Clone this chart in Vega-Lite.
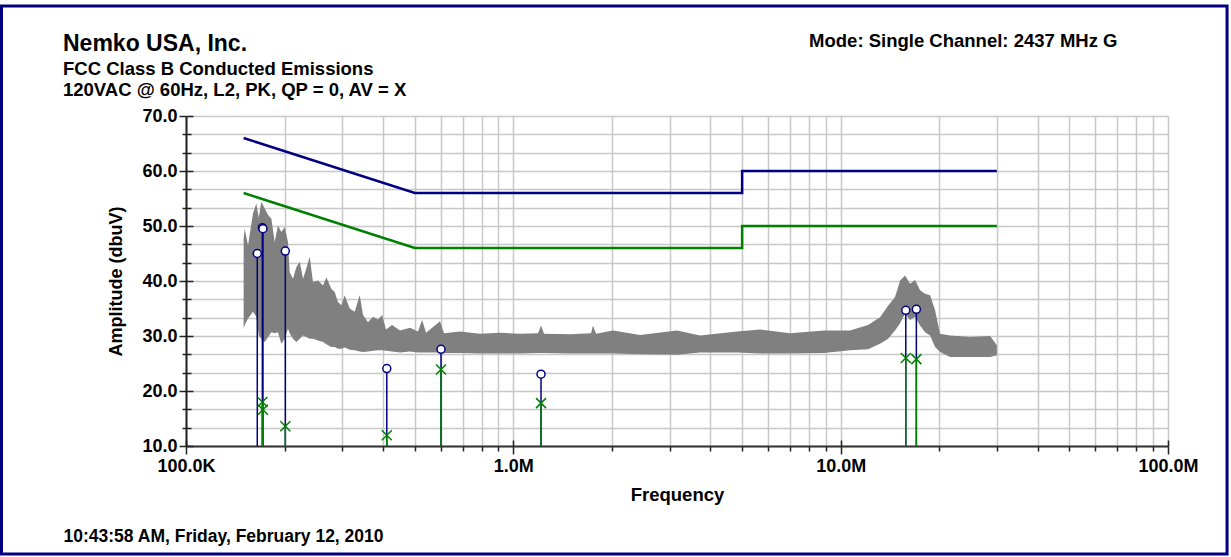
{
  "$schema": "https://vega.github.io/schema/vega-lite/v6.json",
  "width": 982,
  "height": 330,
  "autosize": {"type": "none"},
  "padding": {"left": 186, "top": 116, "right": 63, "bottom": 111},
  "background": "white",
  "config": {
    "font": "Liberation Sans",
    "view": {"stroke": null},
    "axis": {"labelFont": "Liberation Sans", "labelFontWeight": "bold", "labelColor": "black", "titleFont": "Liberation Sans", "titleFontWeight": "bold", "titleColor": "black"}
  },
  "title": {
    "text": "Nemko USA, Inc.",
    "subtitle": ["FCC Class B Conducted Emissions", "120VAC @ 60Hz, L2, PK, QP = 0, AV = X"],
    "anchor": "start", "frame": "group", "dx": -123, "dy": 103, "offset": 8,
    "font": "Liberation Sans", "fontSize": 23, "fontWeight": "bold", "color": "black",
    "subtitleFont": "Liberation Sans", "subtitleFontSize": 18.5, "subtitleFontWeight": "bold", "subtitleColor": "black",
    "subtitleLineHeight": 21, "subtitlePadding": 4
  },
  "datasets": {
    "trace": [
      {"f": 0.150, "hi": 47.7, "lo": 31.3},
      {"f": 0.1511, "hi": 49.5, "lo": 32.0},
      {"f": 0.1547, "hi": 46.5, "lo": 33.2},
      {"f": 0.1602, "hi": 52.3, "lo": 34.4},
      {"f": 0.1640, "hi": 54.1, "lo": 33.5},
      {"f": 0.1668, "hi": 51.5, "lo": 30.1},
      {"f": 0.1699, "hi": 54.4, "lo": 29.5},
      {"f": 0.1740, "hi": 53.2, "lo": 28.9},
      {"f": 0.1781, "hi": 52.0, "lo": 29.8},
      {"f": 0.1823, "hi": 51.3, "lo": 30.7},
      {"f": 0.1866, "hi": 47.1, "lo": 30.5},
      {"f": 0.1910, "hi": 50.1, "lo": 30.7},
      {"f": 0.1955, "hi": 48.9, "lo": 28.6},
      {"f": 0.2003, "hi": 49.8, "lo": 29.5},
      {"f": 0.2049, "hi": 47.1, "lo": 31.3},
      {"f": 0.2074, "hi": 41.6, "lo": 30.5},
      {"f": 0.2123, "hi": 40.4, "lo": 29.5},
      {"f": 0.2173, "hi": 42.5, "lo": 28.9},
      {"f": 0.2226, "hi": 43.5, "lo": 29.5},
      {"f": 0.2278, "hi": 40.4, "lo": 30.1},
      {"f": 0.2332, "hi": 42.3, "lo": 29.8},
      {"f": 0.2388, "hi": 44.4, "lo": 29.5},
      {"f": 0.2443, "hi": 39.8, "lo": 29.5},
      {"f": 0.2531, "hi": 40.1, "lo": 29.2},
      {"f": 0.2622, "hi": 39.2, "lo": 28.9},
      {"f": 0.2684, "hi": 40.7, "lo": 28.5},
      {"f": 0.2779, "hi": 38.6, "lo": 28.0},
      {"f": 0.2846, "hi": 38.0, "lo": 28.0},
      {"f": 0.2913, "hi": 36.2, "lo": 27.7},
      {"f": 0.2982, "hi": 35.6, "lo": 27.7},
      {"f": 0.3054, "hi": 37.4, "lo": 27.9},
      {"f": 0.3163, "hi": 35.0, "lo": 27.5},
      {"f": 0.3276, "hi": 34.4, "lo": 27.4},
      {"f": 0.3394, "hi": 37.4, "lo": 27.2},
      {"f": 0.3474, "hi": 33.8, "lo": 27.1},
      {"f": 0.3598, "hi": 32.5, "lo": 27.2},
      {"f": 0.3727, "hi": 33.5, "lo": 27.3},
      {"f": 0.3861, "hi": 33.0, "lo": 27.4},
      {"f": 0.3971, "hi": 33.8, "lo": 27.4},
      {"f": 0.4084, "hi": 31.2, "lo": 27.3},
      {"f": 0.4261, "hi": 32.0, "lo": 27.2},
      {"f": 0.4506, "hi": 31.0, "lo": 27.0},
      {"f": 0.4835, "hi": 31.5, "lo": 27.2},
      {"f": 0.5115, "hi": 30.8, "lo": 27.0},
      {"f": 0.5262, "hi": 32.9, "lo": 27.0},
      {"f": 0.5413, "hi": 30.6, "lo": 27.0},
      {"f": 0.5970, "hi": 32.7, "lo": 27.0},
      {"f": 0.6142, "hi": 30.5, "lo": 26.9},
      {"f": 0.687, "hi": 30.8, "lo": 26.9},
      {"f": 0.791, "hi": 30.4, "lo": 26.8},
      {"f": 0.911, "hi": 30.6, "lo": 26.8},
      {"f": 1.048, "hi": 30.4, "lo": 26.8},
      {"f": 1.190, "hi": 30.5, "lo": 26.9},
      {"f": 1.215, "hi": 31.9, "lo": 26.9},
      {"f": 1.241, "hi": 30.4, "lo": 26.9},
      {"f": 1.490, "hi": 30.3, "lo": 26.8},
      {"f": 1.728, "hi": 30.5, "lo": 26.8},
      {"f": 1.752, "hi": 31.9, "lo": 26.8},
      {"f": 1.789, "hi": 30.4, "lo": 26.8},
      {"f": 2.017, "hi": 31.0, "lo": 26.8},
      {"f": 2.439, "hi": 30.2, "lo": 26.7},
      {"f": 3.164, "hi": 31.0, "lo": 26.6},
      {"f": 3.719, "hi": 30.1, "lo": 27.0},
      {"f": 4.827, "hi": 30.8, "lo": 27.0},
      {"f": 5.672, "hi": 31.2, "lo": 26.8},
      {"f": 7.004, "hi": 30.5, "lo": 26.8},
      {"f": 8.899, "hi": 31.0, "lo": 26.9},
      {"f": 10.68, "hi": 31.0, "lo": 27.4},
      {"f": 12.12, "hi": 32.0, "lo": 27.6},
      {"f": 13.19, "hi": 33.4, "lo": 28.6},
      {"f": 13.96, "hi": 35.5, "lo": 29.5},
      {"f": 14.66, "hi": 37.1, "lo": 31.0},
      {"f": 15.19, "hi": 40.1, "lo": 32.3},
      {"f": 15.73, "hi": 41.0, "lo": 34.1},
      {"f": 16.29, "hi": 39.5, "lo": 32.9},
      {"f": 16.88, "hi": 40.2, "lo": 33.5},
      {"f": 17.48, "hi": 38.3, "lo": 31.9},
      {"f": 18.11, "hi": 37.7, "lo": 30.7},
      {"f": 18.76, "hi": 37.4, "lo": 30.1},
      {"f": 19.43, "hi": 34.7, "lo": 28.0},
      {"f": 20.12, "hi": 30.4, "lo": 27.1},
      {"f": 21.59, "hi": 30.1, "lo": 26.2},
      {"f": 24.86, "hi": 29.8, "lo": 26.2},
      {"f": 28.61, "hi": 30.0, "lo": 26.2},
      {"f": 30.0, "hi": 28.3, "lo": 26.5}
    ],
    "limits": [
      {"s": "QP", "i": 1, "f": 0.15, "v": 66},
      {"s": "QP", "i": 2, "f": 0.5, "v": 56},
      {"s": "QP", "i": 3, "f": 5, "v": 56},
      {"s": "QP", "i": 4, "f": 5, "v": 60},
      {"s": "QP", "i": 5, "f": 30, "v": 60},
      {"s": "AV", "i": 1, "f": 0.15, "v": 56},
      {"s": "AV", "i": 2, "f": 0.5, "v": 46},
      {"s": "AV", "i": 3, "f": 5, "v": 46},
      {"s": "AV", "i": 4, "f": 5, "v": 50},
      {"s": "AV", "i": 5, "f": 30, "v": 50}
    ],
    "peaks": [
      {"f": 0.1651, "pk": 45.0, "av": null},
      {"f": 0.1711, "pk": 49.7, "av": 18.0},
      {"f": 0.1718, "pk": 49.5, "av": 16.6},
      {"f": 0.2011, "pk": 45.45, "av": 13.6},
      {"f": 0.4106, "pk": 24.07, "av": 11.95},
      {"f": 0.6013, "pk": 27.58, "av": 23.9},
      {"f": 1.215, "pk": 23.05, "av": 17.8},
      {"f": 15.81, "pk": 34.67, "av": 26.0},
      {"f": 17.03, "pk": 34.85, "av": 25.8}
    ]
  },
  "resolve": {"axis": {"x": "independent", "y": "independent"}},
  "layer": [
    {
      "data": {"name": "trace"},
      "mark": {"type": "area", "color": "#808080", "opacity": 1},
      "encoding": {
        "x": {
          "field": "f", "type": "quantitative",
          "scale": {"type": "log", "domain": [0.1, 100], "nice": false},
          "axis": {
            "values": [0.1, 0.2, 0.3, 0.4, 0.5, 0.6, 0.7, 0.8, 0.9, 1, 2, 3, 4, 5, 6, 7, 8, 9, 10, 20, 30, 40, 50, 60, 70, 80, 90, 100],
            "grid": true, "gridColor": "#c8c8c8", "gridWidth": 1.5,
            "domainColor": "#333333", "domainWidth": 2,
            "tickColor": "#222222", "tickWidth": 1.5,
            "tickSize": {"condition": {"test": "datum.value == 0.1 || datum.value == 1 || datum.value == 10 || datum.value == 100", "value": 8}, "value": 5},
            "labelExpr": "datum.value == 0.1 ? '100.0K' : datum.value == 1 ? '1.0M' : datum.value == 10 ? '10.0M' : datum.value == 100 ? '100.0M' : ''",
            "labelFontSize": 18, "labelPadding": 3, "labelOverlap": false, "labelFlush": false, "labelBound": false,
            "title": "Frequency", "titleFontSize": 18.5, "titleBaseline": "alphabetic", "titleY": 54
          }
        },
        "y": {
          "field": "hi", "type": "quantitative",
          "scale": {"domain": [10, 70], "nice": false, "zero": false},
          "axis": {
            "values": [10, 13.333333333333334, 16.666666666666668, 20, 23.333333333333332, 26.666666666666668, 30, 33.333333333333336, 36.666666666666664, 40, 43.333333333333336, 46.666666666666664, 50, 53.333333333333336, 56.666666666666664, 60, 63.333333333333336, 66.66666666666667, 70],
            "grid": true, "gridColor": "#c8c8c8", "gridWidth": 1.5,
            "domainColor": "#222222", "domainWidth": 2,
            "tickColor": "#222222", "tickWidth": 1.5,
            "tickSize": {"condition": {"test": "abs(datum.value % 10) < 0.001", "value": 7}, "value": 4},
            "labelExpr": "abs(datum.value % 10) < 0.001 ? format(datum.value, '.1f') : ''",
            "labelFontSize": 18, "labelPadding": 2, "labelOverlap": false, "labelFlush": false, "labelBound": false,
            "title": "Amplitude (dbuV)", "titleFontSize": 18, "titleAngle": -90, "titleX": -65, "titleY": 165, "titleAlign": "center", "titleBaseline": "alphabetic"
          }
        },
        "y2": {"field": "lo"}
      }
    },
    {
      "data": {"name": "limits"},
      "mark": {"type": "line", "strokeWidth": 2.5},
      "encoding": {
        "x": {
          "field": "f", "type": "quantitative",
          "scale": {"type": "log", "domain": [0.1, 100], "nice": false},
          "axis": {"orient": "top", "domain": false, "ticks": false, "labels": false, "grid": false,
            "title": "Mode: Single Channel: 2437 MHz G", "titleFontSize": 18.5, "titleX": 931, "titleY": -70, "titleAlign": "right", "titleBaseline": "alphabetic"}
        },
        "y": {
          "field": "v", "type": "quantitative",
          "scale": {"domain": [10, 70], "nice": false, "zero": false},
          "axis": {"orient": "right", "domain": false, "ticks": false, "labels": false, "grid": false,
            "title": "10:43:58 AM, Friday, February 12, 2010", "titleFontSize": 17.5, "titleAngle": 0, "titleX": -1105, "titleY": 425, "titleAlign": "left", "titleBaseline": "alphabetic"}
        },
        "color": {"field": "s", "type": "nominal", "scale": {"domain": ["QP", "AV"], "range": ["#000080", "#008000"]}, "legend": null},
        "order": {"field": "i", "type": "quantitative"}
      }
    },
    {
      "data": {"name": "peaks"},
      "mark": {"type": "rule", "color": "#000080", "strokeWidth": 1.5},
      "encoding": {
        "x": {"field": "f", "type": "quantitative", "scale": {"type": "log", "domain": [0.1, 100], "nice": false}, "axis": null},
        "y": {"field": "pk", "type": "quantitative", "scale": {"domain": [10, 70], "nice": false, "zero": false}, "axis": null},
        "y2": {"datum": 10}
      }
    },
    {
      "data": {"name": "peaks"},
      "transform": [{"filter": "isValid(datum.av)"}],
      "mark": {"type": "rule", "color": "#008000", "strokeWidth": 1.5},
      "encoding": {
        "x": {"field": "f", "type": "quantitative", "scale": {"type": "log", "domain": [0.1, 100], "nice": false}, "axis": null},
        "y": {"field": "av", "type": "quantitative", "scale": {"domain": [10, 70], "nice": false, "zero": false}, "axis": null},
        "y2": {"datum": 10}
      }
    },
    {
      "data": {"name": "peaks"},
      "mark": {"type": "point", "shape": "circle", "filled": true, "fill": "white", "stroke": "#000080", "strokeWidth": 1.5, "size": 64, "opacity": 1},
      "encoding": {
        "x": {"field": "f", "type": "quantitative", "scale": {"type": "log", "domain": [0.1, 100], "nice": false}, "axis": null},
        "y": {"field": "pk", "type": "quantitative", "scale": {"domain": [10, 70], "nice": false, "zero": false}, "axis": null}
      }
    },
    {
      "data": {"name": "peaks"},
      "transform": [{"filter": "isValid(datum.av)"}],
      "mark": {"type": "point", "shape": "M-1,-1L1,1M-1,1L1,-1", "filled": false, "stroke": "#008000", "strokeWidth": 1.5, "size": 100, "opacity": 1},
      "encoding": {
        "x": {"field": "f", "type": "quantitative", "scale": {"type": "log", "domain": [0.1, 100], "nice": false}, "axis": null},
        "y": {"field": "av", "type": "quantitative", "scale": {"domain": [10, 70], "nice": false, "zero": false}, "axis": null}
      }
    },
    {
      "data": {"values": [{"frame": "border"}]},
      "mark": {"type": "rect", "filled": false, "fill": null, "stroke": "#000080", "strokeWidth": 3, "clip": false},
      "encoding": {
        "x": {"datum": 0.02731, "type": "quantitative", "scale": {"type": "log", "domain": [0.1, 100], "nice": false},
          "axis": {"orient": "bottom", "values": [0.1, 1, 10, 100], "domain": false, "labels": false, "grid": false, "title": null, "tickColor": "#222222", "tickWidth": 1.5, "tickSize": -6}},
        "x2": {"datum": 151.5},
        "y": {"datum": 90, "type": "quantitative", "scale": {"domain": [10, 70], "nice": false, "zero": false},
          "axis": {"orient": "left", "values": [10, 13.333333333333334, 16.666666666666668, 20, 23.333333333333332, 26.666666666666668, 30, 33.333333333333336, 36.666666666666664, 40, 43.333333333333336, 46.666666666666664, 50, 53.333333333333336, 56.666666666666664, 60, 63.333333333333336, 66.66666666666667, 70],
            "domain": false, "labels": false, "grid": false, "title": null, "tickColor": "#222222", "tickWidth": 1.5,
            "tickSize": {"condition": {"test": "abs(datum.value % 10) < 0.001", "value": -7}, "value": -5}}},
        "y2": {"datum": -9.64}
      }
    }
  ]
}
